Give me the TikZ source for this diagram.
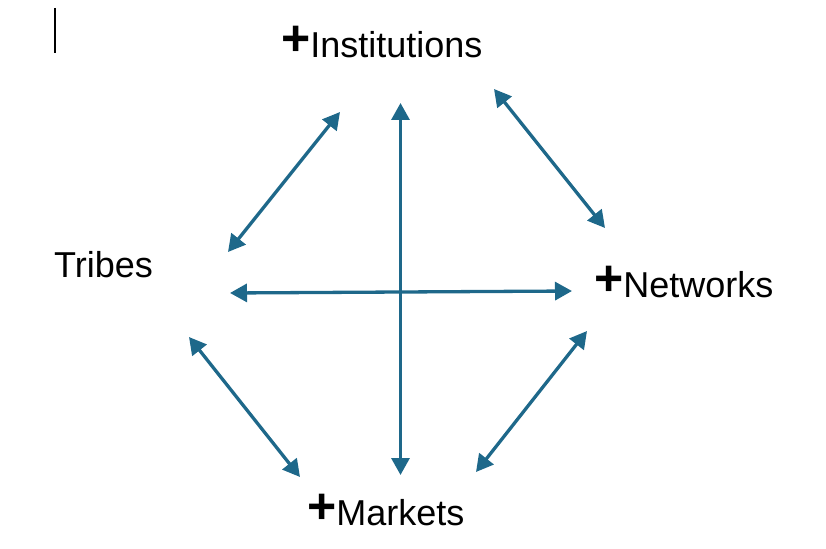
\documentclass[tikz,border=0pt]{standalone}
\usepackage{fontspec}
\setmainfont{Liberation Sans}
\usetikzlibrary{arrows.meta}
\definecolor{arrowblue}{RGB}{30,104,138}
\newcommand{\plussign}{\raisebox{2pt}{\fontsize{50}{50}\selectfont\bfseries +}}
\begin{document}
\begin{tikzpicture}[x=1pt,y=-1pt,
  lbl/.style={font=\fontsize{36}{40}\selectfont, inner sep=0pt, anchor=base west},
  link/.style={draw=arrowblue, line width=3.3pt, {Triangle[length=17pt,width=18pt]}-{Triangle[length=17pt,width=18pt]}}]
\useasboundingbox (0,0) rectangle (826,548);
% cursor bar
\coordinate (barT) at (55,8);
\coordinate (barB) at (55,53);
\draw[line width=1.5pt] (barT) -- (barB);
% labels
\node[lbl] (inst) at (281,58) {\plussign Institutions};
\node[lbl] (tribes) at (54,277) {Tribes};
\node[lbl] (netw) at (594,297) {\plussign Networks};
\node[lbl] (mark) at (307,525) {\plussign Markets};
% arrow end points
\coordinate (a1) at (340,112); \coordinate (a2) at (228,252);
\coordinate (b1) at (400.5,103); \coordinate (b2) at (400.5,475);
\coordinate (c1) at (494,89); \coordinate (c2) at (605,228);
\coordinate (d1) at (230,293); \coordinate (d2) at (572,291);
\coordinate (e1) at (189,337); \coordinate (e2) at (300,477);
\coordinate (f1) at (587,331); \coordinate (f2) at (476,472);
\draw[link] (a1) -- (a2);
\draw[link] (b1) -- (b2);
\draw[link] (c1) -- (c2);
\draw[link] (d1) -- (d2);
\draw[link] (e1) -- (e2);
\draw[link] (f1) -- (f2);
\end{tikzpicture}
\end{document}
